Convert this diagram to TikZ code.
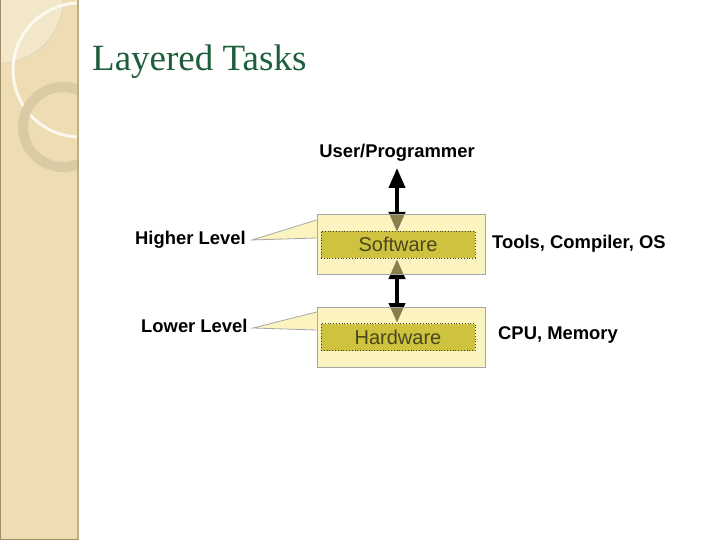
\documentclass[tikz,border=0pt]{standalone}
\usepackage{fontspec}
\setmainfont{Liberation Serif}
\newfontfamily\labfont{Liberation Sans}
\usetikzlibrary{arrows.meta}
\definecolor{strip}{HTML}{EEDDB3}
\definecolor{stripedge}{HTML}{BFAE86}
\definecolor{stripdark}{HTML}{9E8E68}
\definecolor{striplight}{HTML}{F3E7CA}
\definecolor{ringcol}{HTML}{DACBA4}
\definecolor{titlegreen}{HTML}{1E5E3C}
\definecolor{outeryel}{HTML}{F8EA8C}
\definecolor{inneroli}{HTML}{C6BA28}
\definecolor{texoli}{HTML}{4A4620}
\tikzset{
  outerbox/.style={draw=gray!70, line width=0.8pt, fill=outeryel, fill opacity=0.55, draw opacity=1, minimum width=168pt, minimum height=60pt, inner sep=0pt},
  innerbox/.style={draw=black!75, dotted, line width=0.8pt, fill=inneroli, fill opacity=0.85, text opacity=1, minimum width=154pt, minimum height=27pt, inner sep=0pt, font=\labfont\fontsize{20}{22}\selectfont, text=texoli},
  lab/.style={font=\labfont\bfseries\fontsize{18.4}{21}\selectfont, text=black, inner sep=0pt},
  dbl/.style={line width=4pt, {Triangle[width=16pt,length=20pt]}-{Triangle[width=16pt,length=20pt]}},
  calloutline/.style={draw=gray!70, line width=0.8pt}
}
\begin{document}
\begin{tikzpicture}[x=1pt,y=-1pt]
\useasboundingbox (0,0) rectangle (720,540);
% left decorative strip
\fill[strip] (0,0) rectangle (78,540);
\begin{scope}
  \clip (0,0) rectangle (78,540);
  \fill[striplight] (0,0) circle (63);
  \draw[stripedge!60, line width=0.5pt] (0,0) circle (63);
  \draw[white!80!strip, line width=3pt] (80,70) circle (67);
  \draw[ringcol, line width=10pt] (63,127) circle (40);
\end{scope}
\draw[stripedge, line width=2pt] (78,0) -- (78,540);
\draw[stripdark, line width=1pt] (0.5,0) -- (0.5,539.5) -- (78,539.5);
% title
\node[anchor=base west, inner sep=0pt, text=titlegreen, font=\fontsize{37}{40}\selectfont] (title) at (92,71) {Layered Tasks};
% user label and arrows
\node[lab] (user) at (397,153) {User/Programmer};
\coordinate (swtop) at (397,232);
\coordinate (swbot) at (397,259);
\coordinate (hwtop) at (397,323);
\coordinate (usertip) at (397,168);
\draw[dbl] (swtop) -- (usertip);
\draw[dbl] (swbot) -- (hwtop);
% outer boxes with callouts
\node[outerbox] (swout) at (401,244.5) {};
\node[outerbox] (hwout) at (401,337) {};
\coordinate (swtip) at (252,240);
\coordinate (hwtip) at (253,328);
\fill[white] ([xshift=-0.6pt]swout.west |- 0,220.5) rectangle ([xshift=0.6pt]swout.west |- 0,237.5);
\fill[white] ([xshift=-0.6pt]hwout.west |- 0,312.5) rectangle ([xshift=0.6pt]hwout.west |- 0,329.5);
\fill[outeryel, opacity=0.55] ([xshift=0.6pt]swout.west |- 0,220) -- (swtip) -- ([xshift=0.6pt]swout.west |- 0,238) -- cycle;
\fill[outeryel, opacity=0.55] ([xshift=0.6pt]hwout.west |- 0,312) -- (hwtip) -- ([xshift=0.6pt]hwout.west |- 0,330) -- cycle;
\draw[calloutline] (swout.west |- 0,220) -- (swtip) -- (swout.west |- 0,238);
\draw[calloutline] (hwout.west |- 0,312) -- (hwtip) -- (hwout.west |- 0,330);
% inner boxes
\node[innerbox] (sw) at (398,244.5) {Software};
\node[innerbox] (hw) at (398,337) {Hardware};
% labels
\node[lab, anchor=west] (hi) at (135,240) {Higher Level};
\node[lab, anchor=west] (lo) at (141,326) {Lower Level};
\node[lab, anchor=west] (tools) at (492,244) {Tools, Compiler, OS};
\node[lab, anchor=west] (cpu) at (498,335) {CPU, Memory};
\end{tikzpicture}
\end{document}
